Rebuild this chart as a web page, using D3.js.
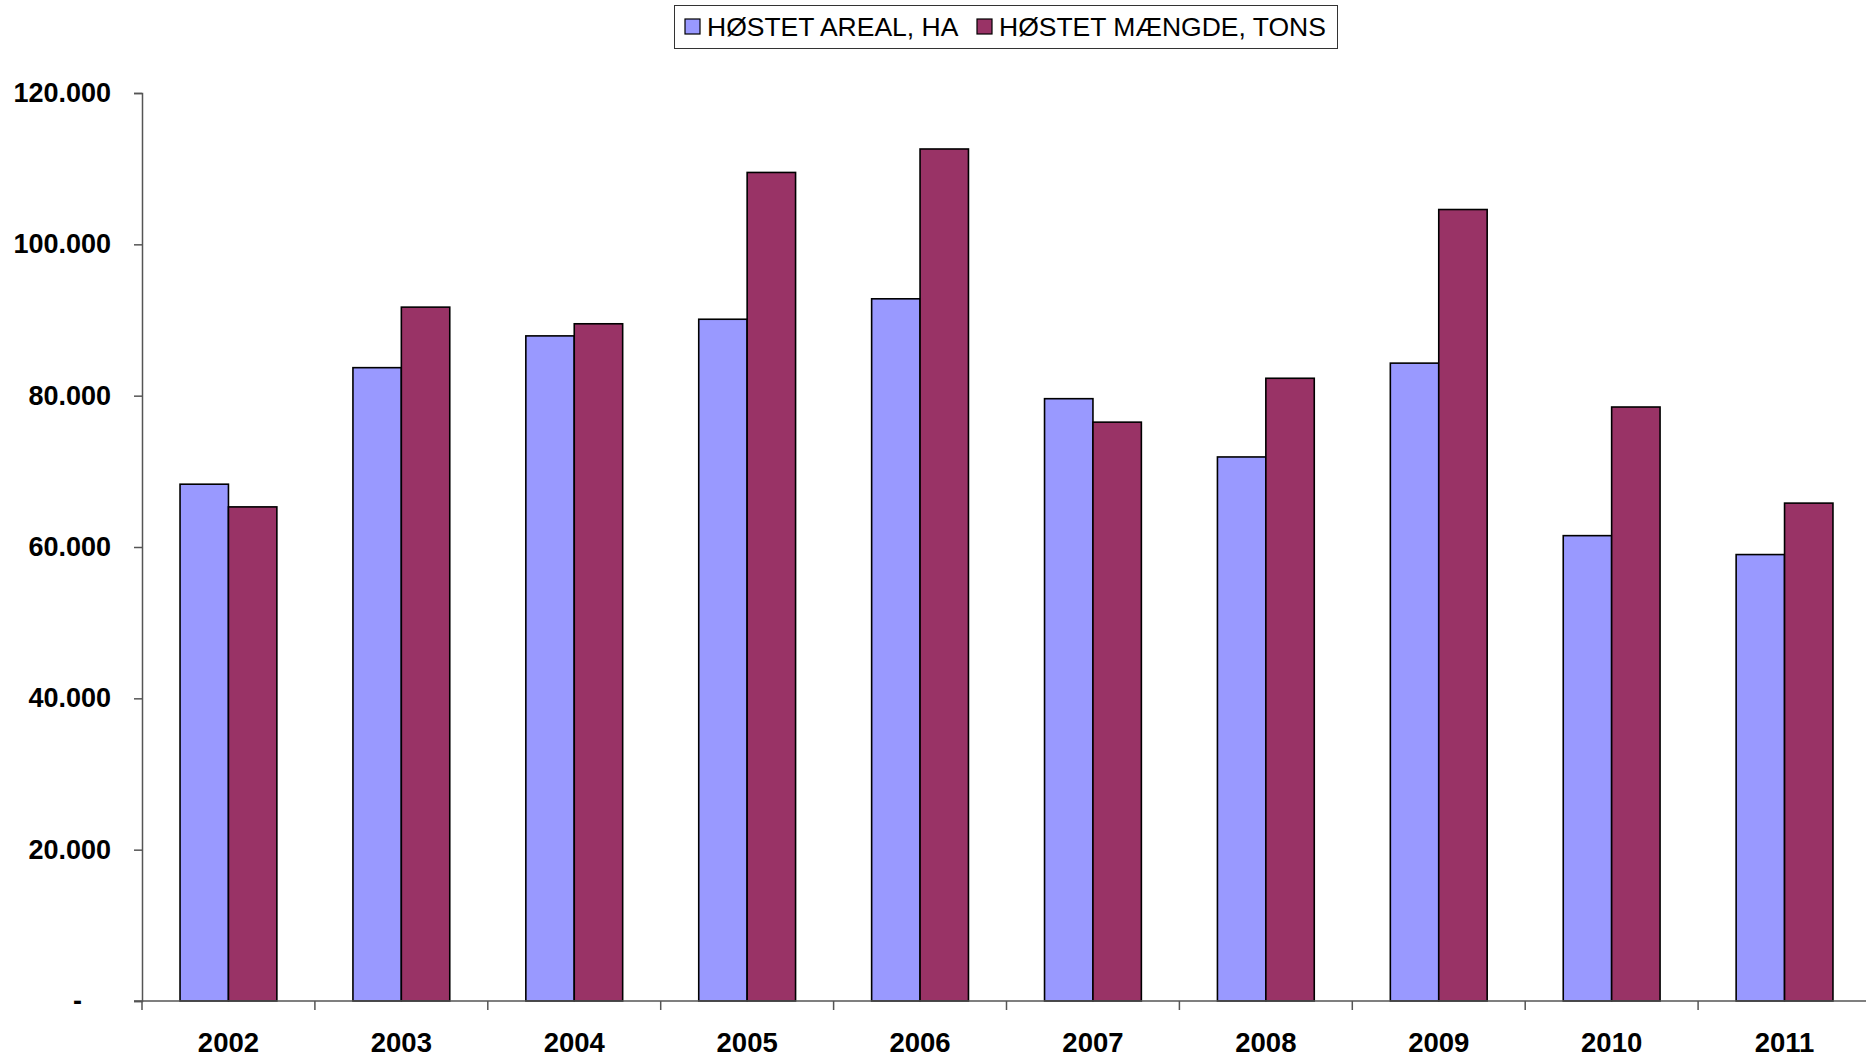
<!DOCTYPE html>
<html>
<head>
<meta charset="utf-8">
<script src="https://cdn.jsdelivr.net/npm/d3@7"></script>
<style>
  body { margin: 0; background: #fff; }
  svg { display: block; font-family: "Liberation Sans", Arial, sans-serif; }
  .y-axis text, .x-axis text { font-weight: bold; fill: #000; }
</style>
</head>
<body>
<div id="chart"></div>
<script>
//Datos
const years = ['2002', '2003', '2004', '2005', '2006', '2007', '2008', '2009', '2010', '2011'];
const seriesNames = ['HØSTET AREAL, HA', 'HØSTET MÆNGDE, TONS'];
const areal = [68300, 83700, 87900, 90100, 92800, 79600, 71900, 84300, 61500, 59000];
const maengde = [65300, 91700, 89500, 109500, 112600, 76500, 82300, 104600, 78500, 65800];
const yTicks = [0, 20000, 40000, 60000, 80000, 100000, 120000];

//Colores fijos
const COLOR_1 = '#9999FF';
const COLOR_2 = '#993366';

let margin = {top: 93, right: -5, bottom: 57, left: 142},
    width = 1866 - margin.left - margin.right,
    height = 1058 - margin.top - margin.bottom;

let svg = d3.select('#chart')
    .append('svg')
        .attr('width', 1866)
        .attr('height', 1058)
    .append('g')
        .attr('transform', 'translate(' + margin.left + ',' + margin.top + ')');

let x0 = d3.scaleBand()
    .domain(years)
    .range([0, width])
    .paddingInner(0.44)
    .paddingOuter(0.22);

let x1 = d3.scaleBand()
    .domain([0, 1])
    .range([0, x0.bandwidth()]);

let y = d3.scaleLinear()
    .domain([0, 120000])
    .range([height, 0]);

let fmt = function(d) {
    if (d == 0) return '-';
    return d3.format(',')(d).replace(/,/g, '.');
};

//Eje Y
let yAxis = svg.append('g')
    .attr('class', 'y-axis')
    .call(d3.axisLeft(y).tickValues(yTicks).tickFormat(fmt).tickSize(8).tickPadding(23));

yAxis.selectAll('text')
    .style('font-size', '27px')
    .attr('x', function(d) { return d == 0 ? -60 : -31; });
yAxis.selectAll('.domain, .tick line')
    .attr('stroke', '#555')
    .attr('stroke-width', 1.5);

//Barras
let groups = svg.selectAll('.year')
    .data(years)
    .enter()
    .append('g')
    .attr('transform', function(d) { return 'translate(' + x0(d) + ',0)'; });

groups.selectAll('rect')
    .data(function(d, i) { return [areal[i], maengde[i]]; })
    .enter()
    .append('rect')
    .attr('x', function(d, i) { return x1(i); })
    .attr('y', function(d) { return y(d); })
    .attr('width', x1.bandwidth())
    .attr('height', function(d) { return height - y(d); })
    .attr('fill', function(d, i) { return i == 0 ? COLOR_1 : COLOR_2; })
    .attr('stroke', '#000')
    .attr('stroke-width', 1.6);

//Eje X
let xTickScale = d3.scaleLinear().domain([0, years.length]).range([0, width]);
let xAxis = svg.append('g')
    .attr('class', 'x-axis')
    .attr('transform', 'translate(0,' + height + ')');

xAxis.append('line')
    .attr('x1', -8).attr('x2', width)
    .attr('stroke', '#555').attr('stroke-width', 1.5);

xAxis.selectAll('.xtick')
    .data(d3.range(years.length + 1))
    .enter()
    .append('line')
    .attr('x1', function(d) { return xTickScale(d); })
    .attr('x2', function(d) { return xTickScale(d); })
    .attr('y1', 0).attr('y2', 9)
    .attr('stroke', '#555').attr('stroke-width', 1.5);

xAxis.selectAll('.xlabel')
    .data(years)
    .enter()
    .append('text')
    .attr('x', function(d) { return x0(d) + x0.bandwidth() / 2; })
    .attr('y', 51)
    .attr('text-anchor', 'middle')
    .style('font-size', '27.5px')
    .text(function(d) { return d; });

//Leyenda
let legend = d3.select('svg').append('g');
legend.append('rect')
    .attr('x', 674.5).attr('y', 5.5)
    .attr('width', 663).attr('height', 43)
    .attr('fill', '#fff')
    .attr('stroke', '#333').attr('stroke-width', 1);

let legendPos = [{sq: 685, tx: 707}, {sq: 977, tx: 999}];
seriesNames.forEach(function(name, i) {
    legend.append('rect')
        .attr('x', legendPos[i].sq).attr('y', 19)
        .attr('width', 15).attr('height', 15)
        .attr('fill', i == 0 ? COLOR_1 : COLOR_2)
        .attr('stroke', '#000').attr('stroke-width', 1.2);
    legend.append('text')
        .attr('x', legendPos[i].tx).attr('y', 36)
        .style('font-size', '26.5px')
        .text(name);
});
</script>
</body>
</html>
